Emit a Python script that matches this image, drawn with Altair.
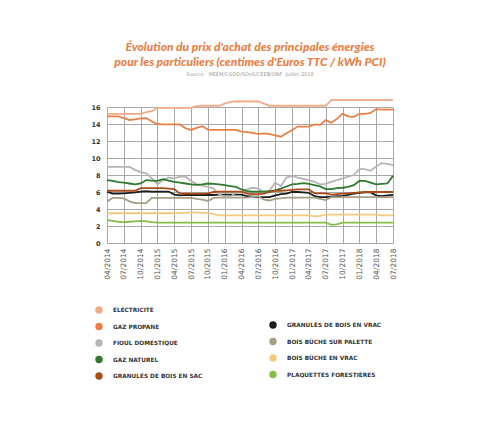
import altair as alt
import pandas as pd
import json

months = [f"{m:02d}/{y}" for y in range(2014, 2019) for m in range(1, 13)]
months = months[months.index("04/2014"):months.index("07/2018") + 1]
quarter_labels = ["04/2014", "07/2014", "10/2014", "01/2015", "04/2015", "07/2015",
                  "10/2015", "01/2016", "04/2016", "07/2016", "10/2016", "01/2017",
                  "04/2017", "07/2017", "10/2017", "01/2018", "04/2018", "07/2018"]

electricite = [15.2, 15.2, 15.2, 15.2, 15.2, 15.2, 15.2, 15.4, 15.5, 15.9,
               15.9, 15.9, 15.9, 15.9, 15.9, 15.9, 16.1, 16.15, 16.15, 16.15,
               16.15, 16.4, 16.6, 16.65, 16.65, 16.65, 16.65, 16.65, 16.4, 16.15,
               16.15, 16.15, 16.15, 16.15, 16.15, 16.15, 16.15, 16.15, 16.15, 16.15,
               16.8, 16.8, 16.8, 16.8, 16.8, 16.8, 16.8, 16.8, 16.8, 16.8,
               16.8, 16.8]
propane = [14.9, 14.9, 14.9, 14.7, 14.45, 14.55, 14.65, 14.7, 14.3, 14.0,
           13.95, 13.95, 13.95, 13.95, 13.5, 13.3, 13.55, 13.75, 13.35, 13.3,
           13.3, 13.3, 13.3, 13.3, 13.1, 13.05, 12.95, 12.8, 12.9, 12.8,
           12.65, 12.5, 12.9, 13.3, 13.7, 13.7, 13.7, 13.95, 13.9, 14.45,
           14.15, 14.6, 15.2, 14.9, 14.85, 15.2, 15.2, 15.3, 15.75, 15.7,
           15.7, 15.7]
fioul = [8.95, 8.95, 8.95, 8.95, 8.95, 8.6, 8.35, 8.2, 7.6, 6.9,
         7.4, 7.7, 7.6, 7.8, 7.8, 7.3, 6.9, 6.75, 6.6, 6.4,
         5.7, 5.5, 5.4, 5.95, 5.95, 6.3, 6.5, 6.4, 5.95, 6.2,
         7.1, 6.7, 7.7, 7.9, 7.7, 7.55, 7.4, 7.2, 6.9, 6.95,
         7.2, 7.4, 7.6, 7.8, 8.0, 8.7, 8.7, 8.5, 9.0, 9.4,
         9.3, 9.15]
gaz_naturel = [7.4, 7.3, 7.15, 7.1, 7.0, 6.9, 7.0, 7.4, 7.35, 7.3,
               7.5, 7.35, 7.2, 7.1, 7.0, 6.9, 6.85, 6.9, 7.0, 6.95,
               6.9, 6.8, 6.7, 6.6, 6.3, 6.1, 6.05, 6.05, 6.05, 6.1,
               6.2, 6.4, 6.65, 6.9, 6.95, 7.05, 6.95, 6.8, 6.65, 6.35,
               6.35, 6.45, 6.5, 6.6, 6.8, 7.3, 7.3, 7.1, 6.9, 6.95,
               7.0, 7.9]
granules_sac = [6.15, 6.15, 6.15, 6.15, 6.15, 6.15, 6.45, 6.45, 6.45, 6.45,
                6.45, 6.4, 6.35, 5.8, 5.8, 5.8, 5.8, 5.8, 5.85, 6.0,
                6.05, 6.05, 6.05, 6.05, 6.05, 5.8, 5.75, 5.75, 5.8, 6.0,
                6.15, 6.15, 6.2, 6.25, 6.3, 6.3, 6.3, 5.85, 5.85, 5.85,
                5.7, 5.75, 5.8, 5.85, 5.9, 5.95, 6.0, 6.0, 6.0, 6.0,
                6.0, 6.0]
granules_vrac = [6.05, 5.8, 5.8, 5.85, 5.9, 5.95, 6.05, 6.1, 6.05, 6.05,
                 6.05, 6.05, 5.7, 5.6, 5.65, 5.65, 5.65, 5.65, 5.65, 5.65,
                 5.7, 5.7, 5.7, 5.7, 5.7, 5.5, 5.45, 5.4, 5.4, 5.4,
                 5.6, 5.75, 5.8, 6.0, 6.0, 5.95, 5.9, 5.5, 5.4, 5.4,
                 5.45, 5.5, 5.55, 5.65, 5.8, 5.9, 5.95, 5.95, 5.6, 5.5,
                 5.6, 5.65]
buche_palette = [4.85, 5.3, 5.3, 5.25, 4.9, 4.7, 4.7, 4.7, 5.3, 5.3,
                 5.3, 5.3, 5.3, 5.3, 5.3, 5.3, 5.2, 5.1, 4.95, 5.3,
                 5.35, 5.35, 5.35, 5.35, 5.35, 5.35, 5.45, 5.5, 5.1, 5.0,
                 5.2, 5.25, 5.35, 5.35, 5.35, 5.35, 5.35, 5.35, 5.2, 5.05,
                 5.4, 5.4, 5.4, 5.4, 5.4, 5.4, 5.4, 5.4, 5.4, 5.4,
                 5.4, 5.4]
buche_vrac = [3.5, 3.5, 3.5, 3.5, 3.5, 3.5, 3.5, 3.5, 3.5, 3.5,
              3.5, 3.5, 3.5, 3.55, 3.55, 3.6, 3.6, 3.55, 3.55, 3.4,
              3.25, 3.25, 3.25, 3.25, 3.25, 3.25, 3.25, 3.25, 3.25, 3.25,
              3.25, 3.25, 3.25, 3.25, 3.25, 3.25, 3.25, 3.15, 3.2, 3.35,
              3.35, 3.35, 3.35, 3.35, 3.35, 3.35, 3.35, 3.35, 3.35, 3.25,
              3.25, 3.25]
plaquettes = [2.7, 2.6, 2.5, 2.45, 2.5, 2.55, 2.6, 2.55, 2.45, 2.4,
              2.4, 2.4, 2.4, 2.4, 2.4, 2.4, 2.4, 2.4, 2.4, 2.4,
              2.4, 2.4, 2.4, 2.4, 2.4, 2.4, 2.4, 2.4, 2.4, 2.4,
              2.4, 2.4, 2.4, 2.4, 2.4, 2.4, 2.4, 2.4, 2.4, 2.4,
              2.15, 2.2, 2.4, 2.4, 2.4, 2.4, 2.4, 2.4, 2.4, 2.4,
              2.4, 2.4]

group1_names = ["ÉLÉCTRICITÉ", "GAZ PROPANE", "FIOUL DOMESTIQUE", "GAZ NATUREL",
                "GRANULÉS DE BOIS EN SAC"]
group1_values = [electricite, propane, fioul, gaz_naturel, granules_sac]
group1_colors = ["#F0AA86", "#EA8046", "#B5B5B5", "#2F7A2F", "#A94C1C"]

group2_names = ["GRANULÉS DE BOIS EN VRAC", "BOIS BÛCHE SUR PALETTE",
                "BOIS BÛCHE EN VRAC", "PLAQUETTES FORESTIÈRES"]
group2_values = [granules_vrac, buche_palette, buche_vrac, plaquettes]
group2_colors = ["#1C1C1C", "#A59D85", "#F2CA7C", "#86BE45"]


def frame(names, values):
    rows = []
    for n, vals in zip(names, values):
        for m, v in zip(months, vals):
            rows.append({"serie": n, "mois": m, "valeur": v})
    return pd.DataFrame(rows)


df1 = frame(group1_names, group1_values)
df2 = frame(group2_names, group2_values)

x_enc = alt.X("mois:O", sort=months,
              scale=alt.Scale(type="point", padding=0),
              axis=alt.Axis(values=quarter_labels, labelAngle=-90, grid=True,
                            gridColor="#A8A8A8", gridWidth=1, domain=False,
                            ticks=False, labelFontSize=7.5, labelFont="DejaVu Sans",
                            labelColor="#555555", labelPadding=5, title=None))
y_enc = alt.Y("valeur:Q", scale=alt.Scale(domain=[0, 16]),
              axis=alt.Axis(values=[0, 2, 4, 6, 8, 10, 12, 14, 16], grid=True,
                            gridColor="#A8A8A8", gridWidth=1, domain=False,
                            ticks=False, labelFontSize=6.5, labelFont="DejaVu Sans",
                            labelFontWeight="bold", labelColor="#333333",
                            labelPadding=7, title=None))


def legend_for(names, colors, lx, ly):
    fill_expr = "%s[indexof(%s, datum.value)]" % (
        json.dumps(colors), json.dumps(names, ensure_ascii=False))
    return alt.Legend(
        orient="none", legendX=lx, legendY=ly, direction="vertical", title=None,
        symbolType="circle", symbolSize=55, symbolStrokeWidth=0,
        symbolOpacity=1, symbolFillColor=alt.ExprRef(expr=fill_expr),
        labelFont="DejaVu Sans", labelFontSize=5.8,
        labelFontWeight="bold", labelColor="#333333",
        labelOffset=10, rowPadding=8.5, labelLimit=200)


layer2 = alt.Chart(df2).mark_line(strokeWidth=1.8).encode(
    x=x_enc, y=y_enc,
    color=alt.Color("serie:N", sort=group2_names,
                    scale=alt.Scale(domain=group2_names, range=group2_colors),
                    legend=legend_for(group2_names, group2_colors, 162, 214)),
)
layer1 = alt.Chart(df1).mark_line(strokeWidth=1.8).encode(
    x=x_enc, y=y_enc,
    color=alt.Color("serie:N", sort=group1_names,
                    scale=alt.Scale(domain=group1_names, range=group1_colors),
                    legend=legend_for(group1_names, group1_colors, -12, 199)),
)

chart = alt.layer(layer2, layer1).resolve_scale(color="independent").properties(
    width=286, height=136,
    padding={"left": 82, "top": 33, "right": 5, "bottom": 5},
    title=alt.Title(
        text=["Évolution du prix d'achat des principales énergies",
              "pour les particuliers (centimes d'Euros TTC / kWh PCI)"],
        subtitle="Source : MEEM/CGDD/SOeS/CEEB/ONF, Juillet 2018",
        font="Lato", fontSize=12, fontStyle="italic", fontWeight=900,
        color="#EA8046", lineHeight=14.5, anchor="middle", frame="group",
        subtitleFont="DejaVu Sans", subtitleFontSize=5, subtitleColor="#9A9A9A",
        subtitlePadding=3, offset=19),
).configure_view(stroke=None)

chart.save("out.html", embed_options={"renderer": "svg", "actions": False})
